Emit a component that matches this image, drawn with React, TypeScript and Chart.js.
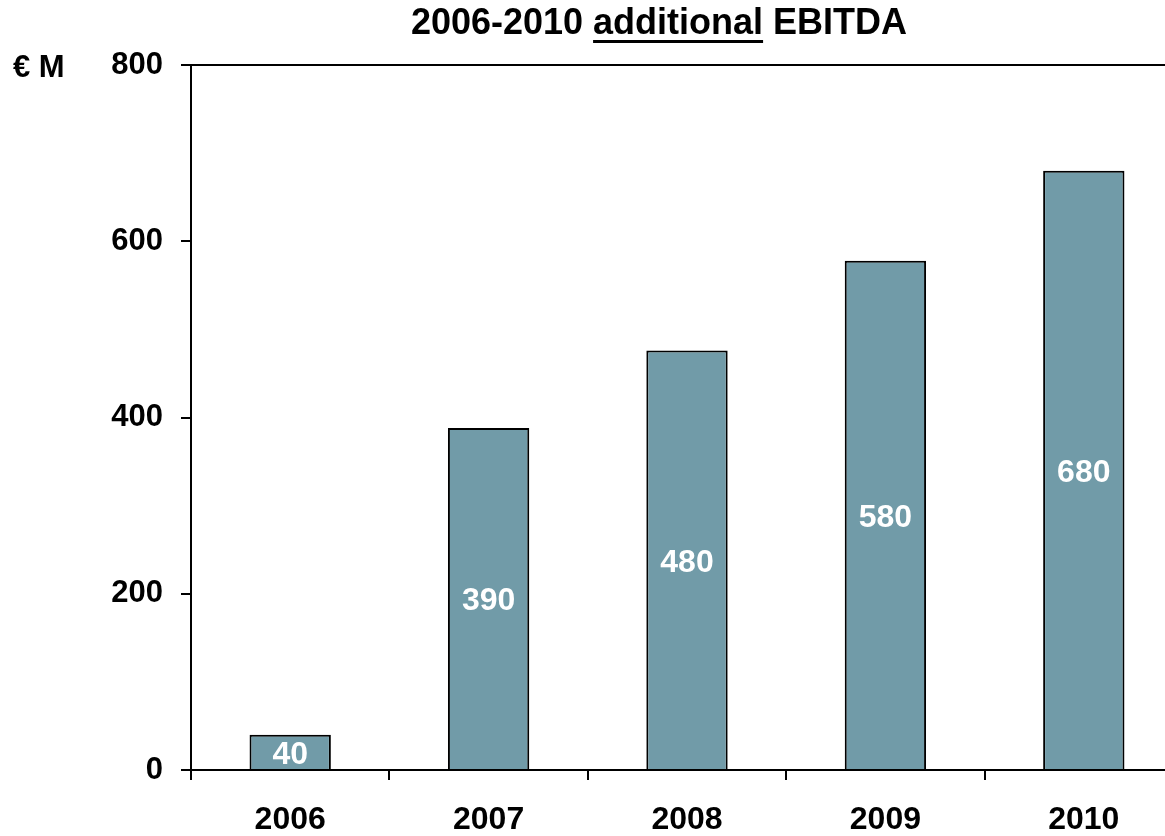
import React, { useEffect, useRef } from "react";
import { Chart, registerables } from "chart.js";

Chart.register(...registerables);

const categories = ["2006", "2007", "2008", "2009", "2010"];
const values = [40, 388, 476, 578, 680];
const valueLabels = ["40", "390", "480", "580", "680"];
const yTicks = [0, 200, 400, 600, 800];
const titleParts = ["2006-2010 ", "additional", " EBITDA"];
const unitLabel = "€ M";

const FONT = "'Liberation Sans', Arial, sans-serif";

const overlayPlugin = {
  id: "overlay",
  afterDatasetsDraw(chart: any) {
    const ctx = chart.ctx;
    const meta = chart.getDatasetMeta(0);
    ctx.save();
    ctx.fillStyle = "#ffffff";
    ctx.font = `bold 32px ${FONT}`;
    ctx.textAlign = "center";
    ctx.textBaseline = "middle";
    meta.data.forEach((bar: any, i: number) => {
      const p = bar.getProps(["x", "y", "base"], true);
      ctx.fillText(valueLabels[i], p.x, (p.y + p.base) / 2 + 3);
    });
    ctx.restore();
  },
  afterDraw(chart: any) {
    const ctx = chart.ctx;
    const area = chart.chartArea;
    ctx.save();
    // top frame line
    ctx.strokeStyle = "#000";
    ctx.lineWidth = 2;
    ctx.beginPath();
    ctx.moveTo(area.left - 10, area.top);
    ctx.lineTo(area.right, area.top);
    ctx.stroke();
    // title
    ctx.fillStyle = "#000";
    ctx.font = `bold 36px ${FONT}`;
    ctx.textBaseline = "alphabetic";
    ctx.textAlign = "left";
    const widths = titleParts.map((t) => ctx.measureText(t).width);
    const total = widths.reduce((a, b) => a + b, 0);
    let x = 659 - total / 2;
    const baseY = 34;
    titleParts.forEach((t, i) => {
      ctx.fillText(t, x, baseY);
      if (i === 1) {
        ctx.fillRect(x, 40, widths[i], 3);
      }
      x += widths[i];
    });
    // unit label
    ctx.font = `bold 31px ${FONT}`;
    ctx.textBaseline = "middle";
    ctx.fillText(unitLabel, 13, 68);
    ctx.restore();
  },
};

export default function App() {
  const ref = useRef<HTMLCanvasElement | null>(null);
  useEffect(() => {
    if (!ref.current) return;
    const chart = new Chart(ref.current, {
      type: "bar",
      data: {
        labels: categories,
        datasets: [
          {
            data: values,
            backgroundColor: "#719BA8",
            borderColor: "#000000",
            borderWidth: 2,
            barPercentage: 0.41,
            categoryPercentage: 1,
          },
        ],
      },
      options: {
        responsive: false,
        animation: false,
        devicePixelRatio: 1,
        layout: { padding: { top: 65, right: 17, left: 0, bottom: 0 } },
        plugins: {
          legend: { display: false },
          title: { display: false },
          tooltip: { enabled: false },
        },
        scales: {
          x: {
            offset: true,
            grid: {
              display: true,
              offset: true,
              drawOnChartArea: false,
              drawTicks: true,
              tickLength: 10,
              color: "#000",
              lineWidth: 2,
            },
            border: { display: true, color: "#000", width: 2 },
            ticks: {
              color: "#000",
              font: { family: FONT, size: 32, weight: "bold" },
              padding: 21,
              maxRotation: 0,
            },
            afterFit(scale: any) {
              scale.height = 66;
            },
          },
          y: {
            min: yTicks[0],
            max: yTicks[yTicks.length - 1],
            afterBuildTicks(scale: any) {
              scale.ticks = yTicks.map((v) => ({ value: v }));
            },
            grid: {
              display: true,
              drawOnChartArea: false,
              drawTicks: true,
              tickLength: 10,
              color: "#000",
              lineWidth: 2,
            },
            border: { display: true, color: "#000", width: 2 },
            ticks: {
              color: "#000",
              font: { family: FONT, size: 31, weight: "bold" },
              padding: 18,
            },
            afterFit(scale: any) {
              scale.width = 191;
            },
          },
        },
      },
      plugins: [overlayPlugin],
    } as any);
    return () => chart.destroy();
  }, []);
  return (
    <div
      style={{
        position: "fixed",
        left: 0,
        top: 0,
        width: 1165,
        height: 836,
        overflow: "hidden",
        background: "#fff",
      }}
    >
      <canvas ref={ref} width={1200} height={836} style={{ display: "block" }} />
    </div>
  );
}
